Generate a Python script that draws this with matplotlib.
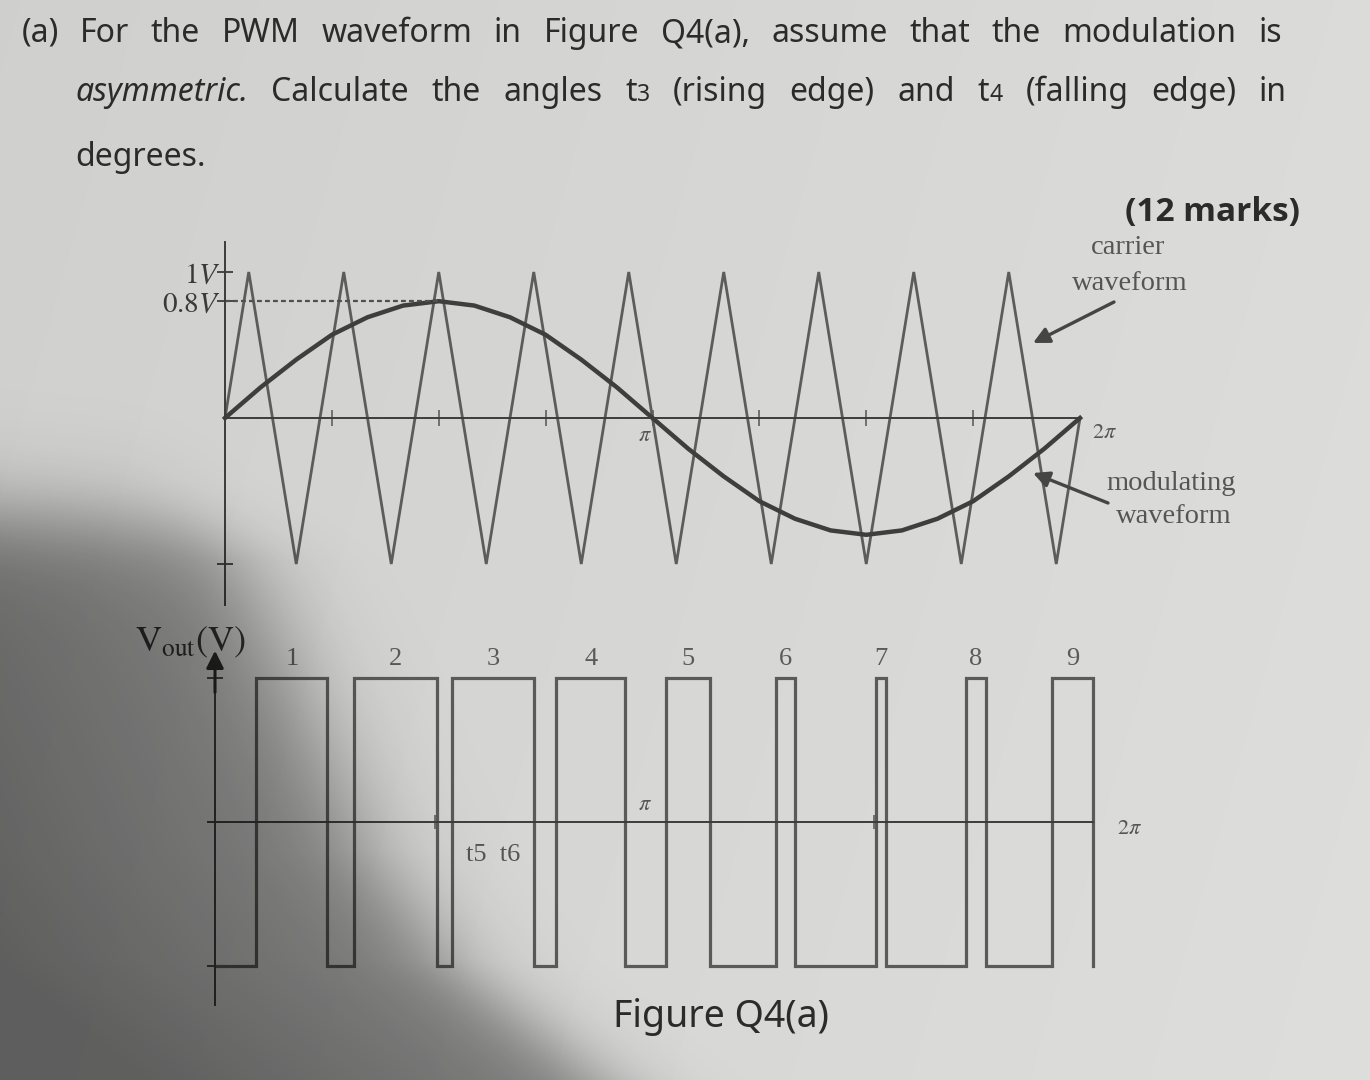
import numpy as np
import matplotlib
matplotlib.use("Agg")
import matplotlib.pyplot as plt

# ------------------------------------------------------------------ data
# carrier triangle wave: vertices (angle in degrees, volts)
carrier_deg = [0, 10, 30, 50, 70, 90, 110, 130, 150, 170, 190, 210, 230, 250, 270, 290, 310, 330, 350, 360]
carrier_v = [0, 1, -1, 1, -1, 1, -1, 1, -1, 1, -1, 1, -1, 1, -1, 1, -1, 1, -1, 0]

# modulating waveform read every 15 degrees (volts)
mod_deg = [0, 15, 30, 45, 60, 75, 90, 105, 120, 135, 150, 165, 180,
           195, 210, 225, 240, 255, 270, 285, 300, 315, 330, 345, 360]
mod_v = [0.00, 0.21, 0.40, 0.57, 0.69, 0.77, 0.80, 0.77, 0.69, 0.57, 0.40, 0.21, 0.00,
         -0.21, -0.40, -0.57, -0.69, -0.77, -0.80, -0.77, -0.69, -0.57, -0.40, -0.21, 0.00]

# PWM output pulses (degrees): rising / falling edges
pwm_rise = [17, 57, 97, 140, 185, 230, 271, 308, 343]
pwm_fall = [46, 91, 131, 168, 203, 238, 275, 316, 360]
pulse_labels = ["1", "2", "3", "4", "5", "6", "7", "8", "9"]

top_axis_ticks = [45, 90, 135, 180, 225, 270, 315]
bottom_axis_ticks = [90, 270]

line1 = ["For", "the", "PWM", "waveform", "in", "Figure", "Q4(a),", "assume", "that", "the", "modulation", "is"]
line2 = [[("asymmetric.", 1.0, "italic")], [("Calculate", 1.0, "normal")], [("the", 1.0, "normal")],
         [("angles", 1.0, "normal")], [("t", 1.0, "normal"), ("3", 0.72, "normal")],
         [("(rising", 1.0, "normal")], [("edge)", 1.0, "normal")], [("and", 1.0, "normal")],
         [("t", 1.0, "normal"), ("4", 0.72, "normal")], [("(falling", 1.0, "normal")],
         [("edge)", 1.0, "normal")], [("in", 1.0, "normal")]]

# ------------------------------------------------------------------ figure
W, H, DPI = 1370, 1080, 100
plt.rcParams["mathtext.fontset"] = "stix"
fig = plt.figure(figsize=(W / DPI, H / DPI), dpi=DPI)
fig.patch.set_facecolor("#d5d5d3")

INK = "#2b2b2b"
GREY_TXT = "#555555"
BODY = ["Noto Sans", "DejaVu Sans"]
BOLD = ["Open Sans", "DejaVu Sans"]
SERIF = ["Liberation Serif", "DejaVu Serif"]


def fpos(px, py):
    return px / W, 1 - py / H


# paper background
bg = fig.add_axes([0, 0, 1, 1], zorder=-10)
yy, xx = np.mgrid[0:H, 0:W]
val = 0.815 + 0.045 * (xx / W) + 0.01 * (yy / H)
paper = np.dstack([val, val, val * 0.993])
bg.imshow(np.clip(paper, 0, 1), extent=(0, W, H, 0), aspect="auto")
bg.set_xlim(0, W)
bg.set_ylim(H, 0)
bg.axis("off")

# ------------------------------------------------------------------ top axes
t_x0, t_x1 = 225, 1080          # pixels of 0 and 2*pi
t_zero, t_scale = 418, 146      # pixel of 0 V and px per volt
t_ytop, t_ybot = 1.205, -1.28
ax1 = fig.add_axes([t_x0 / W, 1 - (t_zero - t_ybot * t_scale) / H,
                    (t_x1 - t_x0) / W, (t_ytop - t_ybot) * t_scale / H])
ax1.set_facecolor("none")
ax1.set_xlim(0, 360)
ax1.set_ylim(t_ybot, t_ytop)
for s in ("top", "right"):
    ax1.spines[s].set_visible(False)
ax1.spines["bottom"].set_position(("data", 0))
ax1.spines["bottom"].set_bounds(0, 360)
for s in ("left", "bottom"):
    ax1.spines[s].set_color("#3c3c3c")
    ax1.spines[s].set_linewidth(1.4)
ax1.set_xticks(top_axis_ticks)
ax1.set_xticklabels([])
ax1.tick_params(axis="x", direction="inout", length=11, width=1.1, color="#555555")
peak_i = int(np.argmax(mod_v))
ax1.set_yticks([1, mod_v[peak_i], -1])
ax1.set_yticklabels([r"$1V$", r"$0.8V$", ""], fontsize=21, color="#3a3a3a")
ax1.tick_params(axis="y", direction="inout", length=12, width=1.3, pad=-3, color="#3c3c3c")

ax1.plot(carrier_deg, carrier_v, color="#5c5c5c", lw=2.0, solid_joinstyle="miter", clip_on=False)
ax1.plot(mod_deg, mod_v, color="#3e3e3e", lw=3.2, clip_on=False)
ax1.plot([0, mod_deg[peak_i]], [mod_v[peak_i]] * 2, color="#505050", lw=1.6,
         ls=(0, (2.2, 1.4)), clip_on=False)
ax1.annotate(r"$\pi$", xy=(180, 0), xytext=(-5.5, -12), textcoords="offset points",
             ha="center", va="center", fontsize=16, color=GREY_TXT)
ax1.annotate(r"$2\pi$", xy=(360, 0), xytext=(18, -10), textcoords="offset points",
             ha="center", va="center", fontsize=16, color=GREY_TXT)

# ------------------------------------------------------------------ bottom axes
b_x0, b_x1 = 215, 1093
b_zero, b_scale = 822, 144
b_ytop, b_ybot = 1.264, -1.27
ppd = (b_x1 - b_x0) / 360.0
xl, xr = -10, 380
ax2 = fig.add_axes([(b_x0 + xl * ppd) / W, 1 - (b_zero - b_ybot * b_scale) / H,
                    (xr - xl) * ppd / W, (b_ytop - b_ybot) * b_scale / H])
ax2.set_facecolor("none")
ax2.set_xlim(xl, xr)
ax2.set_ylim(b_ybot, b_ytop)
for s in ("top", "right"):
    ax2.spines[s].set_visible(False)
ax2.spines["bottom"].set_position(("data", 0))
ax2.spines["bottom"].set_bounds(-3, 360)
ax2.spines["left"].set_position(("data", 0))
ax2.spines["left"].set_bounds(b_ybot, 1.0)
for s in ("left", "bottom"):
    ax2.spines[s].set_color("#3c3c3c")
    ax2.spines[s].set_linewidth(1.4)
ax2.set_xticks(bottom_axis_ticks)
ax2.set_xticklabels([])
ax2.tick_params(axis="x", direction="inout", length=10, width=1.1, color="#555555")
ax2.set_yticks([-1, 1])
ax2.set_yticklabels([])
ax2.tick_params(axis="y", direction="inout", length=11, width=1.3, color="#3c3c3c")
ax2.annotate("", xy=(0, 1.19), xytext=(0, 0.9),
             arrowprops=dict(arrowstyle="-|>", color="#2a2a2a", lw=2.2,
                             mutation_scale=26, shrinkA=0, shrinkB=0))

px_, py_ = [0], [-1]
for r, f in zip(pwm_rise, pwm_fall):
    px_ += [r, r, f, f]
    py_ += [-1, 1, 1, -1]
ax2.plot(px_, py_, color="#5a5a5a", lw=2.3, solid_joinstyle="miter", clip_on=False)

for lab, r, f in zip(pulse_labels, pwm_rise, pwm_fall):
    ax2.text((r + f) / 2, 1.13, lab, ha="center", va="center", fontsize=19,
             family=SERIF, color="#5a5a5a")
ax2.text((pwm_rise[2] + pwm_fall[2]) / 2, -0.23, "t5  t6", ha="center", va="center",
         fontsize=19, family=SERIF, color="#555555")
ax2.annotate(r"$\pi$", xy=(180, 0), xytext=(-6.5, 13), textcoords="offset points",
             ha="center", va="center", fontsize=16, color=GREY_TXT)
ax2.annotate(r"$2\pi$", xy=(360, 0), xytext=(26, -4), textcoords="offset points",
             ha="center", va="center", fontsize=16, color=GREY_TXT)

fig.text(*fpos(135, 642), r"$\mathrm{V_{out}(V)}$", fontsize=26, color="#333333",
         ha="left", va="center")

# ------------------------------------------------------------------ annotations
for txt, (cx, cy) in [("carrier", (1128, 248)), ("waveform", (1130, 283)),
                      ("modulating", (1171, 483)), ("waveform", (1174, 516))]:
    fig.text(*fpos(cx, cy), txt, family=SERIF, fontsize=20.5, color=GREY_TXT,
             ha="center", va="center")
arrow_kw = dict(arrowstyle="-|>", color="#454545", lw=2.4, mutation_scale=24, shrinkA=0, shrinkB=0)
fig.add_artist(matplotlib.patches.FancyArrowPatch(
    (1114, H - 302), (1033, H - 343), transform=None, **arrow_kw))
fig.add_artist(matplotlib.patches.FancyArrowPatch(
    (1108, H - 503), (1033, H - 473), transform=None, **arrow_kw))

fig.text(*fpos(1300, 212), "(12 marks)", family=BOLD, fontweight="bold", fontsize=24,
         color=INK, ha="right", va="center")
fig.text(*fpos(721, 1017), "Figure Q4(a)", family=BODY, fontsize=27, color=INK,
         ha="center", va="center")

# ------------------------------------------------------------------ question text
renderer = fig.canvas.get_renderer()
BODY_SIZE = 23


def justify(words, x0, x1, ybase):
    built, widths = [], []
    for w in words:
        segs, wsum = [], 0.0
        for txt, scale, style in w:
            t = fig.text(0, 0, txt, fontsize=BODY_SIZE * scale, fontstyle=style,
                         family=BODY, color=INK, ha="left", va="baseline")
            segs.append((t, wsum))
            wsum += t.get_window_extent(renderer).width
        built.append(segs)
        widths.append(wsum)
    gap = (x1 - x0 - sum(widths)) / max(len(words) - 1, 1)
    x = x0
    for segs, wd in zip(built, widths):
        for t, off in segs:
            t.set_position(fpos(x + off, ybase))
        x += wd + gap


fig.text(*fpos(22, 42), "(a)", family=BODY, fontsize=BODY_SIZE, color=INK, ha="left", va="baseline")
justify([[(w, 1.0, "normal")] for w in line1], 80, 1282, 42)
justify(line2, 75, 1287, 101)
fig.text(*fpos(75, 166), "degrees.", family=BODY, fontsize=BODY_SIZE, color=INK, ha="left", va="baseline")

# ------------------------------------------------------------------ photo shadow overlay
ov = fig.add_axes([0, 0, 1, 1], zorder=20)
xb = np.interp(yy, [480, 560, 700, 850, 960, 1080], [175, 245, 305, 370, 450, 600])
m1 = 1 / (1 + np.exp(-(xb - xx) / 32.0))
yt = 512 + 0.05 * xx
m2 = 1 / (1 + np.exp(-(yy - yt) / 26.0))
depth = np.clip((xb - xx) / 450.0, 0, 1)
alpha = m1 * m2 * (0.40 + 0.15 * depth)
rgba = np.zeros((H, W, 4))
rgba[..., 3] = alpha
ov.imshow(rgba, extent=(0, W, H, 0), aspect="auto")
ov.set_xlim(0, W)
ov.set_ylim(H, 0)
ov.axis("off")
ov.patch.set_visible(False)

fig.savefig("out.png", dpi=DPI)
